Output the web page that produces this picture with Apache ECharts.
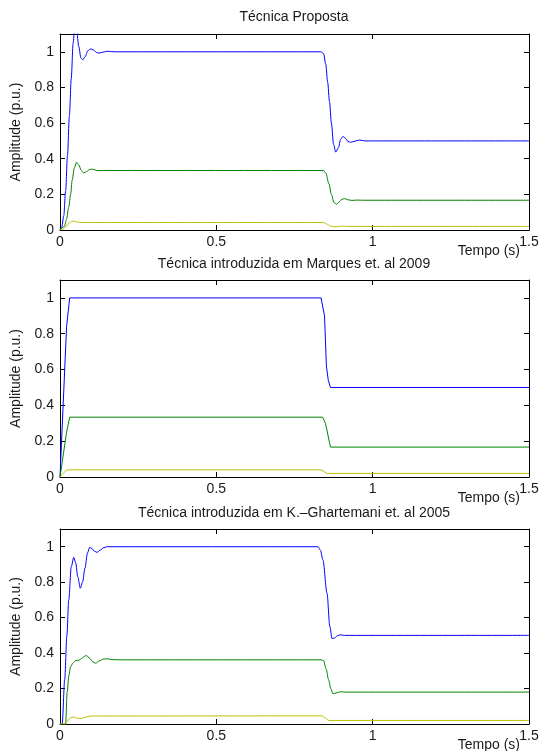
<!DOCTYPE html>
<html>
<head>
<meta charset="utf-8">
<script src="https://cdn.jsdelivr.net/npm/echarts@6/dist/echarts.min.js"></script>
<style>
  html, body { margin: 0; padding: 0; background: #fff; }
  #chart { width: 545px; height: 751px; }
</style>
</head>
<body>
<div id="chart"></div>
<script>
// [tempo (s), amplitude (p.u.)]
var titles = [
  'Técnica Proposta',
  'Técnica introduzida em Marques et. al 2009',
  'Técnica introduzida em K.–Ghartemani et. al 2005'
]

// Técnica Proposta
var propBlue = [[0, 0], [0.006, 0.02], [0.012, 0.08], [0.018, 0.22], [0.024, 0.42], [0.03, 0.64], [0.036, 0.85],
  [0.042, 1.05], [0.047, 1.13], [0.053, 1.12], [0.06, 1.03], [0.067, 0.965], [0.073, 0.955], [0.08, 0.972],
  [0.09, 1.008], [0.098, 1.017], [0.107, 1.01], [0.117, 0.996], [0.125, 0.993], [0.135, 0.997], [0.15, 1.003],
  [0.165, 1.001], [0.18, 1.0], [0.835, 1.0], [0.843, 0.99], [0.85, 0.93], [0.856, 0.83], [0.862, 0.72],
  [0.868, 0.6], [0.875, 0.48], [0.882, 0.437], [0.89, 0.46], [0.898, 0.51], [0.905, 0.525], [0.913, 0.515],
  [0.92, 0.498], [0.929, 0.492], [0.94, 0.497], [0.958, 0.505], [0.975, 0.5], [1.5, 0.5]]
var propGreen = [[0, 0], [0.014, 0.02], [0.021, 0.06], [0.028, 0.13], [0.034, 0.2], [0.039, 0.28], [0.046, 0.35],
  [0.053, 0.38], [0.06, 0.365], [0.068, 0.335], [0.076, 0.32], [0.085, 0.328], [0.093, 0.338], [0.1, 0.342],
  [0.11, 0.338], [0.12, 0.333], [0.15, 0.334], [0.843, 0.334], [0.85, 0.32], [0.86, 0.26], [0.868, 0.2],
  [0.876, 0.155], [0.884, 0.144], [0.893, 0.158], [0.902, 0.173], [0.91, 0.176], [0.92, 0.17], [0.934, 0.166],
  [0.95, 0.168], [0.97, 0.167], [1.5, 0.167]]
var propYellow = [[0, 0], [0.01, 0.005], [0.02, 0.02], [0.03, 0.04], [0.039, 0.05], [0.05, 0.047], [0.06, 0.043],
  [0.07, 0.042], [0.843, 0.042], [0.855, 0.032], [0.865, 0.022], [0.875, 0.018], [0.885, 0.019], [0.9, 0.022],
  [0.92, 0.02], [1.5, 0.02]]

// Marques et. al 2009
var marqBlue = [[0, 0], [0.021, 0.84], [0.031, 1.0], [0.835, 1.0], [0.84, 0.99], [0.846, 0.9], [0.852, 0.62],
  [0.858, 0.54], [0.865, 0.5], [1.5, 0.5]]
var marqGreen = [[0, 0], [0.021, 0.25], [0.031, 0.334], [0.84, 0.334], [0.849, 0.3], [0.865, 0.167], [1.5, 0.167]]
var marqYellow = [[0, 0], [0.01, 0.02], [0.021, 0.038], [0.03, 0.04], [0.835, 0.04], [0.845, 0.03], [0.854, 0.02],
  [1.5, 0.02]]

// K.-Ghartemani et. al 2005
var ghartBlue = [[0, 0], [0.007, 0], [0.015, 0.25], [0.022, 0.5], [0.028, 0.7], [0.036, 0.887], [0.044, 0.94],
  [0.05, 0.91], [0.057, 0.83], [0.065, 0.766], [0.072, 0.8], [0.08, 0.88], [0.088, 0.965], [0.095, 0.997],
  [0.102, 0.99], [0.11, 0.975], [0.119, 0.968], [0.128, 0.98], [0.14, 0.995], [0.151, 1.0], [0.825, 1.0],
  [0.833, 0.98], [0.841, 0.925], [0.854, 0.738], [0.863, 0.55], [0.87, 0.482], [0.878, 0.485], [0.887, 0.498],
  [0.897, 0.503], [0.91, 0.5], [1.5, 0.5]]
var ghartGreen = [[0, 0], [0.018, 0], [0.023, 0.18], [0.028, 0.27], [0.034, 0.324], [0.042, 0.345], [0.05, 0.358],
  [0.06, 0.36], [0.07, 0.37], [0.078, 0.382], [0.085, 0.386], [0.095, 0.37], [0.105, 0.35], [0.114, 0.343],
  [0.125, 0.355], [0.138, 0.366], [0.151, 0.368], [0.17, 0.363], [0.2, 0.362], [0.835, 0.362], [0.843, 0.358],
  [0.851, 0.31], [0.859, 0.25], [0.866, 0.2], [0.873, 0.171], [0.885, 0.176], [0.897, 0.182], [0.91, 0.18],
  [1.5, 0.18]]
var ghartYellow = [[0, 0], [0.018, 0], [0.025, 0.02], [0.034, 0.035], [0.044, 0.039], [0.055, 0.033],
  [0.066, 0.03], [0.08, 0.038], [0.098, 0.045], [0.838, 0.046], [0.848, 0.035], [0.859, 0.02], [1.5, 0.02]]

var plots = [
  { lines: [propBlue, propGreen, propYellow], smooth: 0.3 },
  { lines: [marqBlue, marqGreen, marqYellow], smooth: false },
  { lines: [ghartBlue, ghartGreen, ghartYellow], smooth: 0.3 }
]
var colors = ['#0000ff', '#008000', '#bfbf00']

var gridTops = [34, 280, 529]
var gridHeights = [196, 197, 195]
var titleTops = [10, 257, 506]
var font = '"Liberation Sans", Arial, sans-serif'
var textColor = '#1a1a1a'

var chart = echarts.init(document.getElementById('chart'), null, { renderer: 'canvas' })

var grid = []
var title = []
var xAxis = []
var yAxis = []
var series = []

plots.forEach(function(p, i) {
  grid.push({ left: 60, width: 469, top: gridTops[i], height: gridHeights[i], containLabel: false, outerBoundsMode: 'none' })
  title.push({
    text: titles[i],
    left: 294,
    top: titleTops[i],
    textAlign: 'center',
    padding: 0,
    textStyle: { fontFamily: font, fontSize: 14, fontWeight: 'normal', color: textColor }
  })
  // x label sits under the right end of the axis, MATLAB style
  title.push({
    text: 'Tempo (s)',
    left: 520,
    top: gridTops[i] + gridHeights[i] + 14,
    textAlign: 'right',
    padding: 0,
    textStyle: { fontFamily: font, fontSize: 14, fontWeight: 'normal', color: textColor }
  })
  var line = { show: true, onZero: false, lineStyle: { color: '#000', width: 1 } }
  var tick = { show: true, inside: true, length: 5, lineStyle: { color: '#000', width: 1 } }
  // bottom / left axes carry labels, top / right axes only close the box
  xAxis.push({
    gridIndex: i, type: 'value', min: 0, max: 1.5, interval: 0.5,
    axisLine: line, axisTick: tick, splitLine: { show: false },
    axisLabel: { margin: 5, fontFamily: font, fontSize: 14, color: textColor }
  })
  xAxis.push({
    gridIndex: i, type: 'value', position: 'top', min: 0, max: 1.5, interval: 0.5,
    axisLine: line, axisTick: tick, axisLabel: { show: false }, splitLine: { show: false }
  })
  yAxis.push({
    gridIndex: i, type: 'value', min: 0, max: 1.1, interval: 0.2,
    axisLine: line, axisTick: tick, splitLine: { show: false },
    axisLabel: { margin: 6, showMaxLabel: false, fontFamily: font, fontSize: 14, color: textColor },
    name: 'Amplitude (p.u.)', nameLocation: 'middle', nameGap: 31,
    nameTextStyle: { fontFamily: font, fontSize: 14, color: textColor }
  })
  yAxis.push({
    gridIndex: i, type: 'value', position: 'right', min: 0, max: 1.1, interval: 0.2,
    axisLine: line, axisTick: tick, axisLabel: { show: false }, splitLine: { show: false }
  })
  p.lines.forEach(function(d, k) {
    series.push({
      type: 'line',
      xAxisIndex: 2 * i,
      yAxisIndex: 2 * i,
      data: d,
      smooth: p.smooth,
      smoothMonotone: 'x',
      showSymbol: false,
      clip: true,
      animation: false,
      lineStyle: { color: colors[k], width: 1 }
    })
  })
})

chart.setOption({
  backgroundColor: '#fff',
  animation: false,
  title: title,
  grid: grid,
  xAxis: xAxis,
  yAxis: yAxis,
  series: series
})
</script>
</body>
</html>
